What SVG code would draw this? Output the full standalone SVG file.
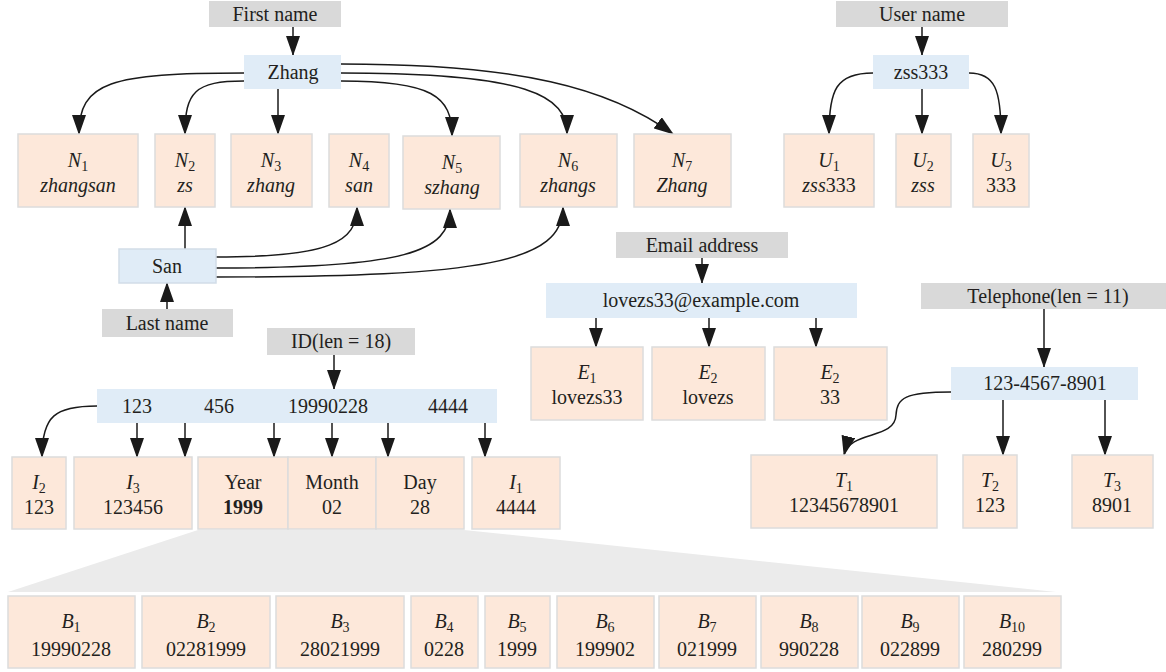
<svg xmlns="http://www.w3.org/2000/svg" width="1166" height="672" viewBox="0 0 1166 672" font-family="'Liberation Serif', 'Times New Roman', 'DejaVu Serif', serif">
<defs>
<style>
text{font-family:'Liberation Serif','Times New Roman','DejaVu Serif',serif;font-size:20px;fill:#231f20;text-anchor:middle}
.lab{fill:#d9d9d9}
.val{fill:#e0ecf7}
.box{fill:#fde8da;stroke:#dcdcdc;stroke-width:1.5}
.it{font-style:italic}
.sub{font-size:14px}
.c{fill:none;stroke:#1a1a1a;stroke-width:1.5;marker-end:url(#ah)}
</style>
<marker id="ah" viewBox="0 0 20 14" refX="19" refY="7" markerWidth="20" markerHeight="14" markerUnits="userSpaceOnUse" orient="auto">
<path d="M0,0 L20,7 L0,14 z" fill="#1a1a1a"/>
</marker>
</defs>
<rect width="1166" height="672" fill="#ffffff"/>
<polygon id="zoom-band" points="198,530 464,530 1056,592 8,592" fill="#ebebeb"/>

<g id="connectors">
<path class="c" d="M293,27 L293,55"/>
<path class="c" d="M244,73 C110,73 79,82 79,134"/>
<path class="c" d="M244,81 C195,81 185,92 185,134"/>
<path class="c" d="M278,89 L278,134"/>
<path class="c" d="M341,81 C432,81 452,96 452,136"/>
<path class="c" d="M341,73 C530,73 567,96 567,134"/>
<path class="c" d="M341,64 C520,64 610,88 673,134"/>
<path class="c" d="M185,249 L185,207"/>
<path class="c" d="M167,309 L167,283"/>
<path class="c" d="M216,257 C330,257 357,242 357,207"/>
<path class="c" d="M216,268 C405,268 450,252 450,209"/>
<path class="c" d="M216,277 C485,277 563,262 563,207"/>
<path class="c" d="M922,27 L922,55"/>
<path class="c" d="M873,73 C836,73 829,90 829,134"/>
<path class="c" d="M922,89 L922,134"/>
<path class="c" d="M969,73 C995,73 1001,90 1001,134"/>
<path class="c" d="M702,258 L702,283"/>
<path class="c" d="M596,318 L596,347"/>
<path class="c" d="M709,318 L709,347"/>
<path class="c" d="M816,318 L816,347"/>
<path class="c" d="M1044,309 L1044,367"/>
<path class="c" d="M951,392 C905,392 897,398 896,415 C895,440 850,430 844,455"/>
<path class="c" d="M1003,400 L1003,455"/>
<path class="c" d="M1105,400 L1105,455"/>
<path class="c" d="M334,355 L334,389"/>
<path class="c" d="M97,406 C55,406 42,416 42,457"/>
<path class="c" d="M137,423 L137,457"/>
<path class="c" d="M185,423 L185,457"/>
<path class="c" d="M274,423 L274,457"/>
<path class="c" d="M332,423 L332,457"/>
<path class="c" d="M388,423 L388,457"/>
<path class="c" d="M485,423 L485,457"/>
</g>

<g id="first-name"><rect class="lab" x="209" y="1" width="132" height="26"/><text x="275" y="21">First name</text></g>
<g id="zhang"><rect class="val" x="244" y="55" width="97" height="34"/><text x="293" y="79">Zhang</text></g>
<g id="n1"><rect class="box" x="18" y="134" width="120" height="73"/><text x="78" y="167"><tspan class="it">N</tspan><tspan class="sub" dy="4">1</tspan></text><text class="it" x="78" y="192">zhangsan</text></g>
<g id="n2"><rect class="box" x="155" y="134" width="60" height="73"/><text x="185" y="167"><tspan class="it">N</tspan><tspan class="sub" dy="4">2</tspan></text><text class="it" x="185" y="192">zs</text></g>
<g id="n3"><rect class="box" x="231" y="134" width="81" height="73"/><text x="271" y="167"><tspan class="it">N</tspan><tspan class="sub" dy="4">3</tspan></text><text class="it" x="271" y="192">zhang</text></g>
<g id="n4"><rect class="box" x="329" y="134" width="60" height="73"/><text x="359" y="167"><tspan class="it">N</tspan><tspan class="sub" dy="4">4</tspan></text><text class="it" x="359" y="192">san</text></g>
<g id="n5"><rect class="box" x="403" y="136" width="97" height="73"/><text x="452" y="169"><tspan class="it">N</tspan><tspan class="sub" dy="4">5</tspan></text><text class="it" x="452" y="194">szhang</text></g>
<g id="n6"><rect class="box" x="520" y="134" width="97" height="73"/><text x="568" y="167"><tspan class="it">N</tspan><tspan class="sub" dy="4">6</tspan></text><text class="it" x="568" y="192">zhangs</text></g>
<g id="n7"><rect class="box" x="634" y="134" width="97" height="73"/><text x="682" y="167"><tspan class="it">N</tspan><tspan class="sub" dy="4">7</tspan></text><text class="it" x="682" y="192">Zhang</text></g>
<g id="san"><rect class="val" x="119" y="249" width="97" height="34" stroke="#d2dde8" stroke-width="1.5"/><text x="167" y="273">San</text></g>
<g id="last-name"><rect class="lab" x="102" y="309" width="131" height="28"/><text x="167" y="330">Last name</text></g>

<g id="user-name"><rect class="lab" x="836" y="1" width="172" height="26"/><text x="922" y="21">User name</text></g>
<g id="zss333"><rect class="val" x="873" y="55" width="96" height="34"/><text x="921" y="79">zss333</text></g>
<g id="u1"><rect class="box" x="784" y="134" width="90" height="73"/><text x="829" y="167"><tspan class="it">U</tspan><tspan class="sub" dy="4">1</tspan></text><text x="829" y="192"><tspan class="it">zss</tspan>333</text></g>
<g id="u2"><rect class="box" x="896" y="134" width="55" height="73"/><text x="923" y="167"><tspan class="it">U</tspan><tspan class="sub" dy="4">2</tspan></text><text class="it" x="923" y="192">zss</text></g>
<g id="u3"><rect class="box" x="973" y="134" width="56" height="73"/><text x="1001" y="167"><tspan class="it">U</tspan><tspan class="sub" dy="4">3</tspan></text><text x="1001" y="192">333</text></g>

<g id="email-address"><rect class="lab" x="616" y="232" width="172" height="26"/><text x="702" y="252">Email address</text></g>
<g id="email"><rect class="val" x="546" y="283" width="311" height="35"/><text x="701" y="307">lovezs33@example.com</text></g>
<g id="e1"><rect class="box" x="531" y="347" width="112" height="73"/><text x="587" y="379"><tspan class="it">E</tspan><tspan class="sub" dy="4">1</tspan></text><text x="587" y="404">lovezs33</text></g>
<g id="e2"><rect class="box" x="652" y="347" width="113" height="73"/><text x="708" y="379"><tspan class="it">E</tspan><tspan class="sub" dy="4">2</tspan></text><text x="708" y="404">lovezs</text></g>
<g id="e3"><rect class="box" x="774" y="347" width="113" height="73"/><text x="830" y="379"><tspan class="it">E</tspan><tspan class="sub" dy="4">2</tspan></text><text x="830" y="404">33</text></g>

<g id="telephone"><rect class="lab" x="921" y="283" width="245" height="26"/><text x="1048" y="303">Telephone(len = 11)</text></g>
<g id="phone"><rect class="val" x="951" y="367" width="187" height="33"/><text x="1045" y="390">123-4567-8901</text></g>
<g id="t1"><rect class="box" x="751" y="455" width="186" height="73"/><text x="844" y="487"><tspan class="it">T</tspan><tspan class="sub" dy="4">1</tspan></text><text x="844" y="512">12345678901</text></g>
<g id="t2"><rect class="box" x="963" y="455" width="54" height="73"/><text x="990" y="487"><tspan class="it">T</tspan><tspan class="sub" dy="4">2</tspan></text><text x="990" y="512">123</text></g>
<g id="t3"><rect class="box" x="1072" y="455" width="81" height="73"/><text x="1112" y="487"><tspan class="it">T</tspan><tspan class="sub" dy="4">3</tspan></text><text x="1112" y="512">8901</text></g>

<g id="id-label"><rect class="lab" x="267" y="328" width="148" height="27"/><text x="341" y="348">ID(len = 18)</text></g>
<g id="id-value"><rect class="val" x="97" y="389" width="400" height="34"/><text x="137" y="413">123</text><text x="219" y="413">456</text><text x="328" y="413">19990228</text><text x="448" y="413">4444</text></g>
<g id="i2"><rect class="box" x="12" y="457" width="54" height="72"/><text x="39" y="489"><tspan class="it">I</tspan><tspan class="sub" dy="4">2</tspan></text><text x="39" y="514">123</text></g>
<g id="i3"><rect class="box" x="74" y="457" width="118" height="72"/><text x="133" y="489"><tspan class="it">I</tspan><tspan class="sub" dy="4">3</tspan></text><text x="133" y="514">123456</text></g>
<g id="year"><rect class="box" x="198" y="457" width="90" height="72"/><text x="243" y="489">Year</text><text x="243" y="514" font-weight="bold">1999</text></g>
<g id="month"><rect class="box" x="288" y="457" width="88" height="72"/><text x="332" y="489">Month</text><text x="332" y="514">02</text></g>
<g id="day"><rect class="box" x="376" y="457" width="88" height="72"/><text x="420" y="489">Day</text><text x="420" y="514">28</text></g>
<g id="i1"><rect class="box" x="472" y="457" width="88" height="72"/><text x="516" y="489"><tspan class="it">I</tspan><tspan class="sub" dy="4">1</tspan></text><text x="516" y="514">4444</text></g>

<g id="b1"><rect class="box" x="8" y="596" width="127" height="72"/><text x="71" y="628"><tspan class="it">B</tspan><tspan class="sub" dy="4">1</tspan></text><text x="71" y="656">19990228</text></g>
<g id="b2"><rect class="box" x="142" y="596" width="128" height="72"/><text x="206" y="628"><tspan class="it">B</tspan><tspan class="sub" dy="4">2</tspan></text><text x="206" y="656">02281999</text></g>
<g id="b3"><rect class="box" x="276" y="596" width="128" height="72"/><text x="340" y="628"><tspan class="it">B</tspan><tspan class="sub" dy="4">3</tspan></text><text x="340" y="656">28021999</text></g>
<g id="b4"><rect class="box" x="411" y="596" width="67" height="72"/><text x="444" y="628"><tspan class="it">B</tspan><tspan class="sub" dy="4">4</tspan></text><text x="444" y="656">0228</text></g>
<g id="b5"><rect class="box" x="485" y="596" width="65" height="72"/><text x="517" y="628"><tspan class="it">B</tspan><tspan class="sub" dy="4">5</tspan></text><text x="517" y="656">1999</text></g>
<g id="b6"><rect class="box" x="557" y="596" width="97" height="72"/><text x="605" y="628"><tspan class="it">B</tspan><tspan class="sub" dy="4">6</tspan></text><text x="605" y="656">199902</text></g>
<g id="b7"><rect class="box" x="659" y="596" width="97" height="72"/><text x="707" y="628"><tspan class="it">B</tspan><tspan class="sub" dy="4">7</tspan></text><text x="707" y="656">021999</text></g>
<g id="b8"><rect class="box" x="761" y="596" width="97" height="72"/><text x="809" y="628"><tspan class="it">B</tspan><tspan class="sub" dy="4">8</tspan></text><text x="809" y="656">990228</text></g>
<g id="b9"><rect class="box" x="862" y="596" width="97" height="72"/><text x="910" y="628"><tspan class="it">B</tspan><tspan class="sub" dy="4">9</tspan></text><text x="910" y="656">022899</text></g>
<g id="b10"><rect class="box" x="964" y="596" width="97" height="72"/><text x="1012" y="628"><tspan class="it">B</tspan><tspan class="sub" dy="4">10</tspan></text><text x="1012" y="656">280299</text></g>
</svg>
